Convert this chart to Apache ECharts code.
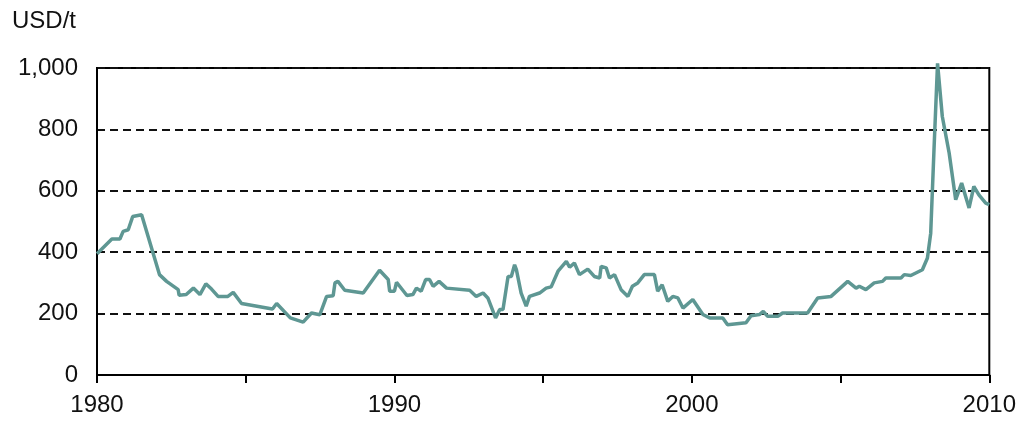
<!DOCTYPE html>
<html>
<head>
<meta charset="utf-8">
<script src="https://cdn.jsdelivr.net/npm/echarts@6/dist/echarts.min.js"></script>
<style>
  html, body { margin: 0; padding: 0; background: #fff; }
  #main { width: 1019px; height: 421px; }
</style>
</head>
<body>
<div id="main"></div>
<script>
// price in USD/t (year as decimal)
var years = [1980.0, 1980.5, 1980.77, 1980.88, 1981.05, 1981.2, 1981.5, 1982.1, 1982.34, 1982.73,
  1982.76, 1983.0, 1983.24, 1983.46, 1983.66, 1983.85, 1984.07, 1984.4, 1984.58, 1984.86,
  1985.9, 1986.04, 1986.5, 1986.93, 1987.21, 1987.49, 1987.72, 1987.94, 1988.0, 1988.1,
  1988.33, 1988.95, 1989.5, 1989.79, 1989.84, 1990.0, 1990.07, 1990.42, 1990.62, 1990.74,
  1990.9, 1991.05, 1991.18, 1991.3, 1991.5, 1991.75, 1992.53, 1992.75, 1992.98, 1993.14,
  1993.4, 1993.54, 1993.65, 1993.82, 1993.93, 1994.04, 1994.1, 1994.26, 1994.43, 1994.54,
  1994.88, 1995.1, 1995.27, 1995.5, 1995.78, 1995.89, 1996.05, 1996.22, 1996.5, 1996.72,
  1996.9, 1996.95, 1997.12, 1997.23, 1997.4, 1997.62, 1997.85, 1998.0, 1998.18, 1998.4,
  1998.74, 1998.85, 1999.0, 1999.19, 1999.36, 1999.53, 1999.7, 2000.03, 2000.37, 2000.6,
  2001.04, 2001.2, 2001.82, 2001.99, 2002.27, 2002.4, 2002.55, 2002.89, 2003.05, 2003.89,
  2004.23, 2004.68, 2005.24, 2005.52, 2005.63, 2005.85, 2006.13, 2006.41, 2006.52, 2007.03,
  2007.14, 2007.36, 2007.75, 2007.92, 2008.03, 2008.14, 2008.26, 2008.42, 2008.65, 2008.87,
  2009.07, 2009.32, 2009.48, 2009.65, 2009.88, 2010.0];
var prices = [395, 443, 443, 468, 473, 516, 522, 327, 305, 278,
  260, 262, 283, 262, 297, 280, 256, 256, 269, 233,
  215, 233, 186, 172, 202, 196, 256, 258, 300, 305,
  276, 267, 341, 311, 273, 273, 302, 259, 262, 283,
  273, 311, 311, 289, 305, 283, 276, 256, 267, 251,
  186, 213, 213, 321, 321, 359, 343, 267, 224, 256,
  267, 283, 287, 338, 370, 351, 365, 327, 345, 321,
  316, 354, 349, 316, 327, 278, 256, 289, 300, 327,
  327, 273, 294, 240, 256, 251, 218, 246, 197, 186,
  186, 164, 170, 193, 197, 207, 191, 191, 202, 202,
  251, 256, 305, 283, 289, 278, 300, 305, 316, 316,
  327, 324, 343, 381, 462, 733, 1015, 842, 723, 571,
  625, 544, 614, 587, 560, 555];
var yTicks = [0, 200, 400, 600, 800, 1000];
var xLabels = [1980, 1990, 2000, 2010];

var seriesData = [];
for (let i = 0; i < years.length; i++) {
  seriesData.push([years[i], prices[i]]);
}

var font = 'Liberation Sans, Arial, sans-serif';
var chart = echarts.init(document.getElementById('main'));
chart.setOption({
  animation: false,
  textStyle: { fontFamily: font },
  grid: {
    left: 97, right: 29, top: 68, bottom: 46,
    show: true, borderColor: '#000', borderWidth: 2, backgroundColor: 'transparent'
  },
  graphic: [{
    type: 'text', left: 12, top: 9,
    style: { text: 'USD/t', fontSize: 24, fill: '#111', fontFamily: font }
  }],
  xAxis: {
    type: 'value', min: 1980, max: 2010, interval: 5,
    axisLine: { show: true, lineStyle: { color: '#000', width: 2 } },
    axisTick: { show: true, inside: false, length: 8, lineStyle: { color: '#000', width: 2 } },
    splitLine: { show: false },
    axisLabel: {
      color: '#111', fontSize: 24, margin: 18,
      formatter: function (v) { return xLabels.indexOf(v) >= 0 ? String(v) : ''; }
    }
  },
  yAxis: {
    type: 'value', min: 0, max: 1000, interval: 200,
    axisLine: { show: true, lineStyle: { color: '#000', width: 2 } },
    axisTick: { show: false },
    axisLabel: {
      color: '#111', fontSize: 24, margin: 19,
      formatter: function (v) { return yTicks.indexOf(v) >= 0 ? v.toLocaleString('en-US') : ''; }
    },
    splitLine: { show: true, lineStyle: { color: '#111', width: 2, type: [8, 5] } }
  },
  series: [{
    type: 'line',
    data: seriesData,
    showSymbol: false,
    clip: false,
    lineStyle: { color: '#5e9793', width: 3.5 }
  }]
});
</script>
</body>
</html>
